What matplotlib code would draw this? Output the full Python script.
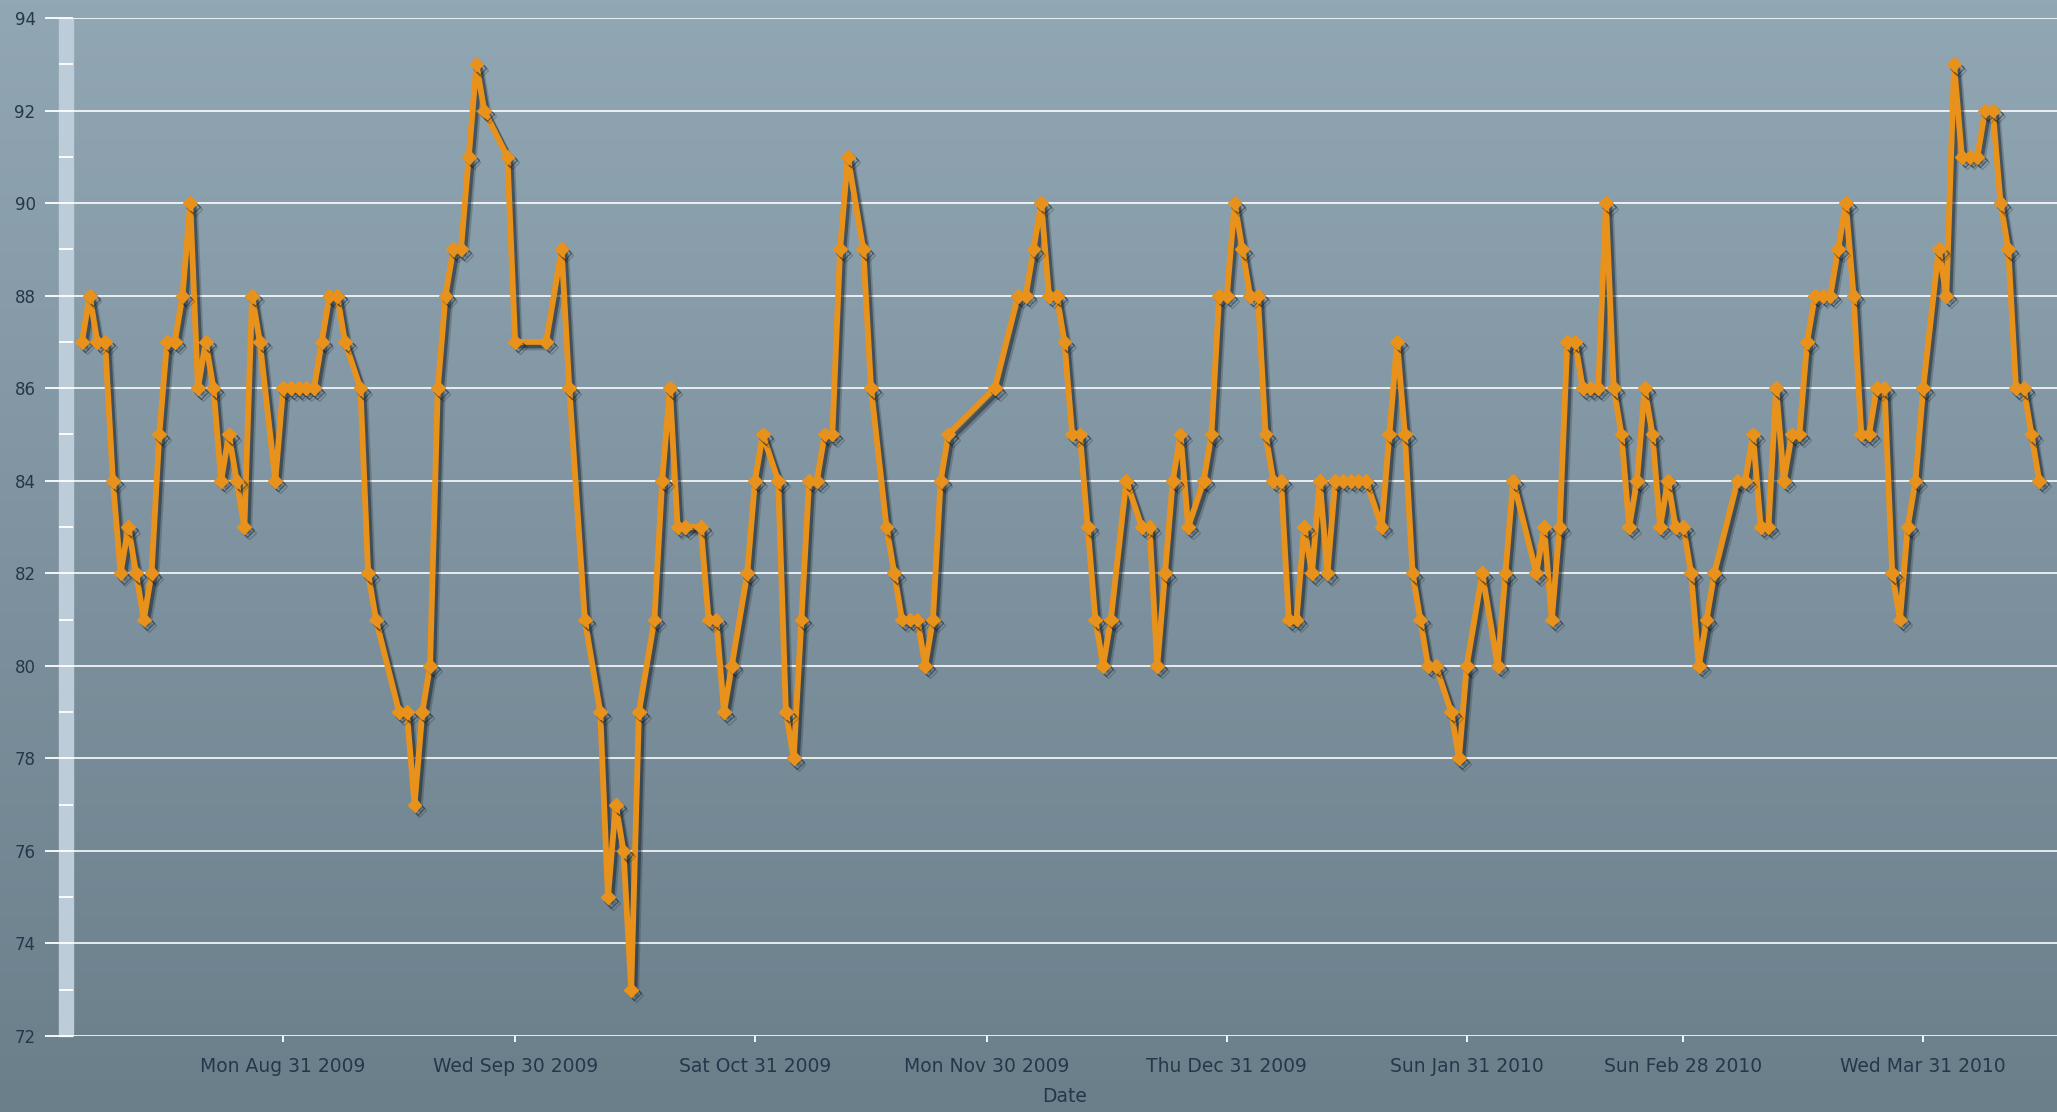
import numpy as np
import matplotlib
matplotlib.use('Agg')
import matplotlib.pyplot as plt
import matplotlib.dates as mdates
import matplotlib.patheffects as pe
from matplotlib.colors import LinearSegmentedColormap
from matplotlib.patches import Rectangle
from datetime import datetime, timedelta

# data: days after the first reading, and the reading for that day
start = datetime(2009, 8, 5)
day_offsets = [
    0, 1, 2, 3, 4, 5, 6, 7, 8, 9, 10, 11, 12, 13, 14, 15, 16, 17, 18, 19, 20, 21, 22, 23,
    25, 26, 27, 28, 29, 30, 31, 32, 33, 34, 36, 37, 38, 41, 42, 43, 44, 45, 46, 47, 48,
    49, 50, 51, 52, 55, 56, 60, 62, 63, 65, 67, 68, 69, 70, 71, 72, 74, 75, 76, 77, 78,
    80, 81, 82, 83, 84, 86, 87, 88, 90, 91, 92, 93, 94, 95, 96, 97, 98, 99, 101, 102,
    104, 105, 106, 107, 108, 109, 110, 111, 112, 118, 121, 122, 123, 124, 125, 126, 127,
    128, 129, 130, 131, 132, 133, 135, 137, 138, 139, 140, 141, 142, 143, 145, 146, 147,
    148, 149, 150, 151, 152, 153, 154, 155, 156, 157, 158, 159, 160, 161, 162, 163, 164,
    165, 166, 168, 169, 170, 171, 172, 173, 174, 175, 177, 178, 179, 181, 183, 184, 185,
    188, 189, 190, 191, 192, 193, 194, 195, 196, 197, 198, 199, 200, 201, 202, 203, 204,
    205, 206, 207, 208, 209, 210, 211, 214, 215, 216, 217, 218, 219, 220, 221, 222, 223,
    224, 225, 226, 227, 228, 229, 230, 231, 232, 233, 234, 235, 236, 237, 238, 240, 241,
    242, 243, 244, 245, 246, 247, 248, 249, 250, 251, 252, 253,
]
values = [
    87, 88, 87, 87, 84, 82, 83, 82, 81, 82, 85, 87, 87, 88, 90, 86, 87, 86, 84, 85, 84, 83, 88, 87,
    84, 86, 86, 86, 86, 86, 87, 88, 88, 87, 86, 82, 81, 79, 79, 77, 79, 80, 86, 88, 89,
    89, 91, 93, 92, 91, 87, 87, 89, 86, 81, 79, 75, 77, 76, 73, 79, 81, 84, 86, 83, 83,
    83, 81, 81, 79, 80, 82, 84, 85, 84, 79, 78, 81, 84, 84, 85, 85, 89, 91, 89, 86,
    83, 82, 81, 81, 81, 80, 81, 84, 85, 86, 88, 88, 89, 90, 88, 88, 87,
    85, 85, 83, 81, 80, 81, 84, 83, 83, 80, 82, 84, 85, 83, 84, 85, 88,
    88, 90, 89, 88, 88, 85, 84, 84, 81, 81, 83, 82, 84, 82, 84, 84, 84,
    84, 84, 83, 85, 87, 85, 82, 81, 80, 80, 79, 78, 80, 82, 80, 82, 84,
    82, 83, 81, 83, 87, 87, 86, 86, 86, 90, 86, 85, 83, 84, 86, 85, 83,
    84, 83, 83, 82, 80, 81, 82, 84, 84, 85, 83, 83, 86, 84, 85, 85, 87,
    88, 88, 88, 89, 90, 88, 85, 85, 86, 86, 82, 81, 83, 84, 86, 89, 88,
    93, 91, 91, 91, 92, 92, 90, 89, 86, 86, 85, 84,
]
tick_dates = ['2009-08-31', '2009-09-30', '2009-10-31', '2009-11-30',
              '2009-12-31', '2010-01-31', '2010-02-28', '2010-03-31']

dates = [start + timedelta(days=d) for d in day_offsets]
text_color = '#24384a'

W, H = 2057, 1112
fig = plt.figure(figsize=(W / 100, H / 100), dpi=100)

# background gradient over the whole figure
bg = fig.add_axes([0, 0, 1, 1], zorder=-1)
grad = np.linspace(0, 1, 256).reshape(-1, 1)
bg.imshow(grad, aspect='auto', extent=[0, 1, 0, 1],
          cmap=LinearSegmentedColormap.from_list('bg', ['#91a7b3', '#6b7f8b']))
bg.axis('off')

left, right, top, bottom = 73, 2057, 18, 1036
ax = fig.add_axes([left / W, 1 - bottom / H, (right - left) / W, (bottom - top) / H])
ax.set_facecolor('none')

# light bar along the y axis
ax.add_patch(Rectangle((-14 / (right - left), 0), 14 / (right - left), 1,
                       transform=ax.transAxes, clip_on=False, color='#bccdd9', zorder=1))

ax.plot(dates, values, color='#e8921c', lw=4.2, marker='D', ms=7,
        mfc='#e8921c', mec='#e8921c', solid_joinstyle='round', zorder=3,
        path_effects=[pe.SimpleLineShadow(offset=(3.5, -4), shadow_color='#111a22', alpha=0.22),
                      pe.SimpleLineShadow(offset=(2.2, -2.5), shadow_color='#111a22', alpha=0.45),
                      pe.Normal()])

ax.set_ylim(72, 94)
ax.set_yticks(range(72, 95, 2))
ax.set_yticks(range(73, 94, 2), minor=True)
ax.tick_params(axis='y', which='major', length=20, width=1.3, color='white',
               pad=7, labelsize=12, labelcolor=text_color)
ax.tick_params(axis='y', which='minor', length=10, width=1.3, color='white')
ax.grid(axis='y', which='major', color='white', lw=1.3, alpha=0.9)

ax.set_xlim(start - timedelta(days=1.15), start + timedelta(days=255.3))
ax.set_xticks([datetime.strptime(d, '%Y-%m-%d') for d in tick_dates])
ax.xaxis.set_major_formatter(mdates.DateFormatter('%a %b %d %Y'))
ax.tick_params(axis='x', length=4, width=1.3, color='white', pad=11,
               labelsize=13.5, labelcolor=text_color)
ax.set_xlabel('Date', fontsize=13.5, color=text_color, labelpad=8)

for s in ax.spines.values():
    s.set_visible(False)

fig.savefig('out.png', dpi=100)
